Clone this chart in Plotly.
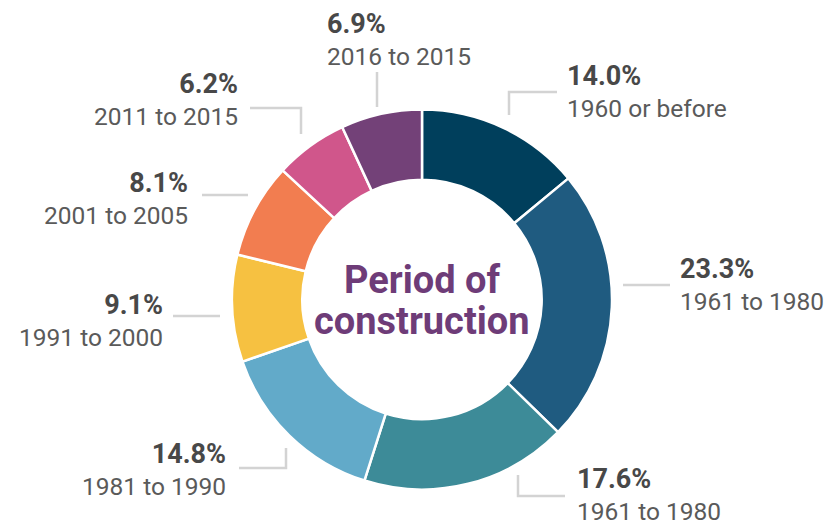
import plotly.graph_objects as go

W, H = 835, 528
OFF = 8  # browser body margin shifts the plot by this many pixels

## Data
periods = ["1960 or before", "1961 to 1980", "1961 to 1980", "1981 to 1990",
           "1991 to 2000", "2001 to 2005", "2011 to 2015", "2016 to 2015"]
shares = [14.0, 23.3, 17.6, 14.8, 9.1, 8.1, 6.2, 6.9]
colors = ["#003f5c", "#1f5b80", "#3d8b98", "#62aac9",
          "#f6c141", "#f27d50", "#d0568b", "#734178"]

## Label layout (pixel positions): text anchor x, mid y, side; leader polyline
label_pos = [(565, 91, "left"), (678, 284, "left"), (575, 494, "left"), (228, 469, "right"),
             (165, 320, "right"), (190, 198, "right"), (240, 99, "right"), (325, 39, "left")]
leaders = [[(509, 115), (509, 92), (557, 92)],
           [(623, 285), (670, 285)],
           [(518, 475), (518, 496), (565, 496)],
           [(286, 448), (286, 468), (239, 468)],
           [(220, 316), (173, 316)],
           [(248, 195), (202, 195)],
           [(301, 134), (301, 108), (250, 108)],
           [(377, 107), (377, 72)]]

# ring placement in pixels
cx, cy, r = 422, 299.5, 190


def px(x):
    return (x - OFF) / W


def py(y):
    return 1 - (y - OFF) / H


fig = go.Figure()

fig.add_trace(go.Pie(
    values=shares, labels=[f"{i}" for i in range(len(shares))], sort=False,
    direction="clockwise", rotation=0, hole=0.63, textinfo="none",
    marker=dict(colors=colors, line=dict(color="white", width=2.5)),
    domain=dict(x=[px(cx - r), px(cx + r)], y=[py(cy + r), py(cy - r)]),
    showlegend=False, hoverinfo="skip"
))

for (x, y, side), v, name in zip(label_pos, shares, periods):
    fig.add_annotation(
        x=px(x), y=py(y), xref="paper", yref="paper", showarrow=False,
        xanchor=side, yanchor="middle", align=side,
        text=f"<span style='color:#484848;font-size:27px'><b>{v:.1f}%</b></span><br>{name}",
        font=dict(family="Roboto, sans-serif", size=24.5, color="#5a5a5a")
    )

for pts in leaders:
    path = "M " + " L ".join(f"{px(a)},{py(b)}" for a, b in pts)
    fig.add_shape(type="path", path=path, xref="paper", yref="paper",
                  line=dict(color="#d3d3d3", width=2.5))

# centre title, two lines placed separately for tighter spacing
for txt, yy in [("Period of", 280), ("construction", 321)]:
    fig.add_annotation(
        x=px(cx), y=py(yy), xref="paper", yref="paper", showarrow=False,
        text=f"<b>{txt}</b>", xanchor="center", yanchor="middle",
        font=dict(family="Roboto, sans-serif", size=38, color="#6e3c78")
    )

fig.update_layout(
    width=W, height=H, margin=dict(l=0, r=0, t=0, b=0),
    paper_bgcolor="white", plot_bgcolor="white"
)

fig.write_html("out.html")
